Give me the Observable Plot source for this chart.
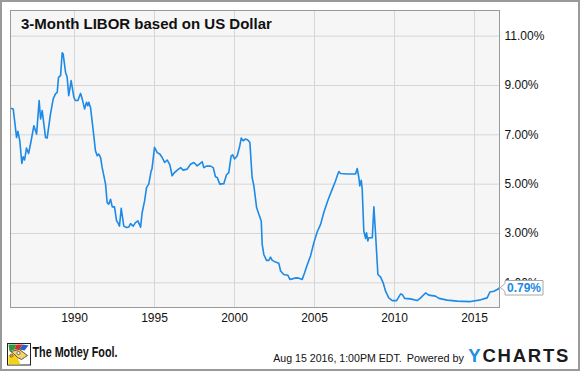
<!DOCTYPE html>
<html>
<head>
<meta charset="utf-8">
<script src="https://cdn.jsdelivr.net/npm/d3@7"></script>
<script src="https://cdn.jsdelivr.net/npm/@observablehq/plot@0.6"></script>
<style>
  html, body { margin: 0; padding: 0; background: #fff; }
  #wrap { position: relative; width: 580px; height: 371px; overflow: hidden; background: #fff;
          font-family: "Liberation Sans", Arial, sans-serif; }
  #chart { position: absolute; left: 0; top: 0; }
  #footer { position: absolute; left: 0; top: 330px; }
  #border { position: absolute; left: 0; top: 0; width: 580px; height: 371px; box-sizing: border-box;
            border: 2px solid #9a9a9a; pointer-events: none; }
</style>
</head>
<body>
<div id="wrap">
  <div id="chart"></div>
  <svg id="footer" width="580" height="41" xmlns="http://www.w3.org/2000/svg"></svg>
  <div id="border"></div>
</div>
<script>
const titleText = "3-Month LIBOR based on US Dollar";
const years = [
  1986.06,1986.17,1986.38,1986.46,1986.58,1986.71,1986.79,1986.88,1987.00,1987.13,
  1987.29,1987.46,1987.63,1987.79,1987.88,1987.98,1988.19,1988.29,1988.50,1988.67,
  1988.81,1988.92,1989.00,1989.13,1989.23,1989.29,1989.44,1989.54,1989.64,1989.79,
  1989.96,1990.06,1990.21,1990.38,1990.48,1990.63,1990.75,1990.83,1990.89,1991.00,
  1991.17,1991.31,1991.42,1991.52,1991.63,1991.73,1991.94,1992.04,1992.14,1992.25,
  1992.36,1992.50,1992.63,1992.71,1992.81,1992.92,1993.08,1993.25,1993.39,1993.50,
  1993.67,1993.81,1993.96,1994.13,1994.23,1994.38,1994.50,1994.64,1994.79,1994.84,
  1995.00,1995.17,1995.33,1995.48,1995.63,1995.79,1995.96,1996.10,1996.25,1996.42,
  1996.63,1996.79,1997.04,1997.25,1997.46,1997.67,1997.88,1997.98,1998.08,1998.25,
  1998.50,1998.67,1998.81,1998.92,1999.08,1999.33,1999.50,1999.64,1999.79,1999.88,
  2000.00,2000.17,2000.33,2000.42,2000.54,2000.69,2000.83,2000.96,2001.10,2001.21,
  2001.38,2001.52,2001.67,2001.73,2001.83,2002.00,2002.14,2002.25,2002.36,2002.56,
  2002.77,2002.88,2003.08,2003.33,2003.46,2003.61,2003.81,2004.02,2004.23,2004.38,
  2004.54,2004.75,2004.96,2005.17,2005.38,2005.58,2005.86,2006.11,2006.31,2006.42,
  2006.52,2006.63,2007.04,2007.56,2007.67,2007.77,2007.83,2007.92,2007.98,2008.08,
  2008.19,2008.25,2008.33,2008.39,2008.61,2008.71,2008.81,2008.96,2009.13,2009.29,
  2009.44,2009.64,2009.86,2010.13,2010.38,2010.48,2010.63,2011.00,2011.42,2011.63,
  2011.94,2012.14,2012.56,2012.77,2013.29,2013.92,2014.75,2015.38,2015.79,2015.96,
  2016.21,2016.42,2016.56
];
const rates = [
  8.07,8.05,6.89,7.14,6.76,5.84,6.11,5.98,6.46,6.24,
  6.76,7.37,7.03,8.39,7.64,7.98,6.89,6.87,7.85,8.46,
  8.66,8.72,9.33,9.40,10.33,10.28,9.54,9.33,8.59,9.20,
  8.52,8.39,8.39,8.68,8.46,8.05,8.32,8.18,8.32,8.11,
  7.17,6.35,6.15,6.22,6.08,5.67,5.00,4.25,4.19,4.39,
  4.08,4.08,3.51,3.44,3.30,4.02,3.30,3.24,3.26,3.40,
  3.30,3.44,3.51,3.26,3.85,4.32,4.86,5.00,5.54,5.61,
  6.49,6.28,6.22,6.08,5.88,5.98,5.78,5.34,5.47,5.57,
  5.67,5.57,5.61,5.81,5.88,5.74,5.85,5.91,5.67,5.73,
  5.73,5.67,5.30,5.27,5.00,5.02,5.38,5.47,6.15,6.19,
  6.02,6.15,6.56,6.87,6.76,6.83,6.79,6.69,5.27,4.93,
  4.05,3.78,3.51,2.56,2.15,1.91,1.91,2.04,1.91,1.84,
  1.79,1.48,1.34,1.31,1.14,1.16,1.20,1.19,1.14,1.41,
  1.72,2.09,2.63,3.07,3.37,3.85,4.39,4.80,5.13,5.34,
  5.51,5.43,5.41,5.41,5.63,5.27,4.93,5.16,4.80,3.10,
  2.80,3.03,2.70,2.83,2.83,4.08,3.03,1.34,1.23,1.00,
  0.66,0.39,0.28,0.28,0.55,0.53,0.37,0.35,0.28,0.39,
  0.59,0.50,0.46,0.37,0.30,0.26,0.24,0.31,0.39,0.63,
  0.66,0.73,0.79
];
const xTicks = [1990, 1995, 2000, 2005, 2010, 2015];
const yTicks = [1, 3, 5, 7, 9, 11];
const xDomain = [1986, 2016.56];
const yDomain = [0, 12.04];
const lastLabel = "0.79%";
const timestamp = "Aug 15 2016, 1:00PM EDT.";
const poweredBy = "Powered by";
const brandText = "The Motley Fool.";

const data = years.map((y, i) => ({year: y, rate: rates[i]}));
const FONT = "'Liberation Sans', Arial, sans-serif";
const LINE = "#1c8ae6";

const plot = Plot.plot({
  width: 580,
  height: 330,
  marginLeft: 10,
  marginRight: 81,
  marginTop: 10,
  marginBottom: 23,
  style: {fontFamily: FONT, fontSize: "12px", color: "#111", background: "transparent", overflow: "visible"},
  x: {domain: xDomain, label: null},
  y: {domain: yDomain, label: null},
  marks: [
    Plot.frame({fill: "#f6f6f6", stroke: null}),
    Plot.gridX(xTicks, {stroke: "#d6d6d6", strokeOpacity: 1}),
    Plot.gridY(yTicks, {stroke: "#d6d6d6", strokeOpacity: 1}),
    Plot.line(data, {x: "year", y: "rate", stroke: LINE, strokeWidth: 1.6}),
    Plot.frame({stroke: "#9a9a9a"}),
    Plot.axisX({ticks: xTicks, tickSize: 0, tickPadding: 6, tickFormat: d => String(d), fontSize: 12}),
    Plot.axisY({anchor: "right", ticks: yTicks, tickSize: 0, tickPadding: 5, tickFormat: d => d.toFixed(2) + "%", fontSize: 12})
  ]
});
document.getElementById("chart").appendChild(plot);

const svg = d3.select(plot);
// title inside panel
svg.append("text")
  .attr("x", 21).attr("y", 29.3)
  .attr("text-anchor", "start")
  .attr("font-family", FONT).attr("font-size", 15).attr("font-weight", "bold")
  .attr("fill", "#111")
  .text(titleText);

// last value callout
const sx = plot.scale("x"), sy = plot.scale("y");
const px = sx.apply(years[years.length - 1]);
const py = sy.apply(rates[rates.length - 1]);
const g = svg.append("g");
const L = px + 6, R = px + 44, T = py - 7, B = py + 7.5;
g.append("path")
  .attr("d", `M${px + 1.5},${py} L${L},${py - 4} L${L},${T} L${R},${T} L${R},${B} L${L},${B} L${L},${py + 4} Z`)
  .attr("fill", "#fff").attr("stroke", "#a8a8a8").attr("stroke-width", 1);
g.append("text")
  .attr("x", (L + R) / 2).attr("y", py + 4.3)
  .attr("text-anchor", "middle")
  .attr("font-family", FONT).attr("font-size", 12).attr("font-weight", "bold")
  .attr("fill", LINE)
  .text(lastLabel);

// footer
const f = d3.select("#footer");
const logo = f.append("g").attr("transform", "translate(7.5,13.5)");
logo.append("rect").attr("width", 23).attr("height", 21.5).attr("fill", "#fff").attr("stroke", "#222");
logo.append("path").attr("d", "M1,21 L1,12 L6,10 L10,14 L13,21 Z").attr("fill", "#f4d21c");
logo.append("path").attr("d", "M1,1 L9,1 L7,6 L2,8 Z").attr("fill", "#2e9a3e");
logo.append("path").attr("d", "M9,1 L15,1 L12,6 L7,6 Z").attr("fill", "#d92b2b");
logo.append("path").attr("d", "M15,1 L21,2 L17,7 L12,6 Z").attr("fill", "#2d5fc4");
logo.append("path").attr("d", "M3,8 L12,6 L16,9 L20,12 L17,14 L14,16 L10,14 L6,10 Z").attr("fill", "#f5d36a").attr("stroke", "#333").attr("stroke-width", 0.8);
logo.append("circle").attr("cx", 11).attr("cy", 9.5).attr("r", 1.6).attr("fill", "#fff").attr("stroke", "#222").attr("stroke-width", 0.6);
logo.append("circle").attr("cx", 4).attr("cy", 12).attr("r", 1.6).attr("fill", "#e8a21a").attr("stroke", "#222").attr("stroke-width", 0.5);

f.append("text").attr("x", 32.5).attr("y", 27.3)
  .attr("font-family", FONT).attr("font-size", 14).attr("font-weight", "bold")
  .attr("textLength", 85).attr("lengthAdjust", "spacingAndGlyphs")
  .attr("fill", "#111").text(brandText);

f.append("text").attr("x", 273.3).attr("y", 31.7)
  .attr("font-family", FONT).attr("font-size", 11.5)
  .attr("textLength", 128.4).attr("lengthAdjust", "spacingAndGlyphs")
  .attr("fill", "#111").text(timestamp);
f.append("text").attr("x", 406.7).attr("y", 31.7)
  .attr("font-family", FONT).attr("font-size", 11.5)
  .attr("textLength", 57.3).attr("lengthAdjust", "spacingAndGlyphs")
  .attr("fill", "#111").text(poweredBy);

const yc = f.append("text").attr("x", 468.3).attr("y", 31.7)
  .attr("font-family", FONT).attr("font-size", 18.5).attr("font-weight", "bold")
  .attr("textLength", 100).attr("lengthAdjust", "spacing");
yc.append("tspan").attr("fill", "#1a8fe6").text("Y");
yc.append("tspan").attr("fill", "#1b1b1b").text("CHARTS");
</script>
</body>
</html>
